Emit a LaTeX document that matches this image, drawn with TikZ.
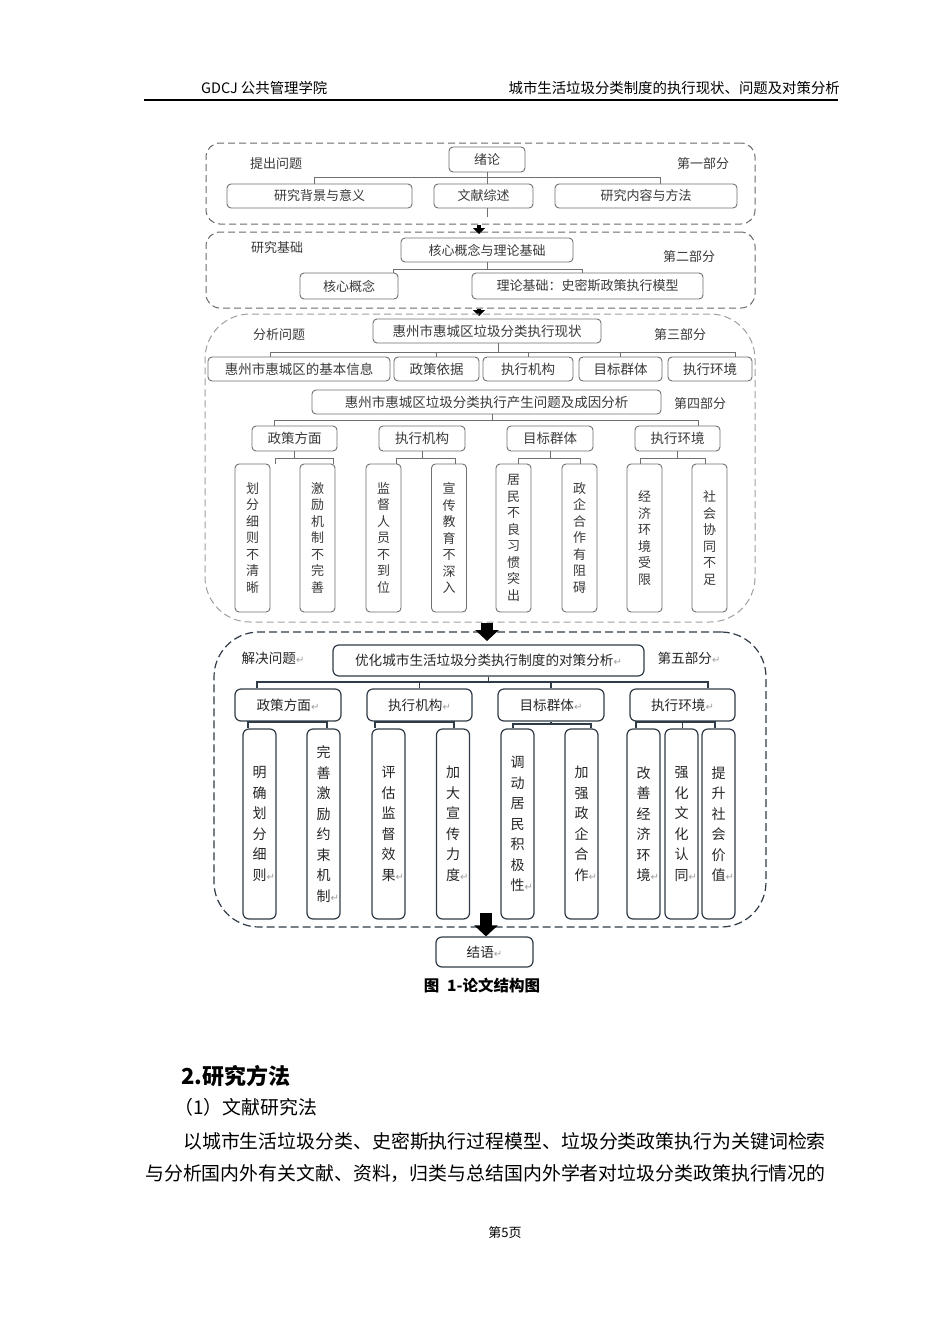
\documentclass[tikz,border=0pt]{standalone}
\usepackage{fontspec}
\setmainfont{Noto Sans CJK SC}
\newfontfamily\retfont{DejaVu Sans}
\usetikzlibrary{arrows.meta}

\definecolor{boxline}{HTML}{707070}
\definecolor{frameline}{HTML}{6A6A6A}
\definecolor{slate}{HTML}{2F3B47}
\definecolor{textgray}{HTML}{3A3A3A}

\newcommand{\rt}{{\retfont\color{gray!75}\fontsize{10}{10}\selectfont ↵}}

\tikzset{
  partframe/.style={draw=frameline, line width=1pt, dash pattern=on 7pt off 4pt, rounded corners=14pt, inner sep=0pt},
  wideframe/.style={partframe, draw=gray!75, rounded corners=45pt},
  darkframe/.style={partframe, draw=slate, line width=1.2pt, dash pattern=on 8pt off 4pt, rounded corners=45pt},
  box/.style={draw=boxline, line width=0.9pt, rounded corners=4pt, inner sep=0pt, text=textgray, font=\fontsize{13.5}{15}\selectfont},
  vbox/.style={box, minimum width=35pt, minimum height=148pt, align=center, font=\fontsize{13}{16.5}\selectfont},
  dbox/.style={draw=slate, line width=1.2pt, rounded corners=6pt, inner sep=0pt, text=black!85, font=\fontsize{13.6}{16}\selectfont},
  dvbox/.style={dbox, minimum width=33pt, minimum height=190pt, align=center, font=\fontsize{14}{20.5}\selectfont},
  sidetext/.style={inner sep=0pt, text=textgray, font=\fontsize{13}{15}\selectfont},
  dsidetext/.style={inner sep=0pt, text=black!85, font=\fontsize{13.6}{16}\selectfont},
  link/.style={draw=boxline, line width=0.9pt},
  dlink/.style={draw=slate, line width=1.2pt},
  smallarr/.style={line width=4pt, -{Triangle[width=12pt,length=6pt]}},
  bigarr/.style={line width=12pt, -{Triangle[width=23pt,length=11pt]}},
  pagetext/.style={inner sep=0pt, anchor=west, font=\fontsize{18.9}{22}\selectfont}
}

\begin{document}
\begin{tikzpicture}[x=1pt, y=-1pt]
  \fill[white] (0,0) rectangle (950,1344);
  \useasboundingbox (0,0) rectangle (950,1344);

  % page header
  \node[inner sep=0pt, anchor=west, font=\fontsize{14.4}{16}\selectfont] (hl) at (201,88) {GDCJ 公共管理学院};
  \node[inner sep=0pt, anchor=east, font=\fontsize{14.4}{16}\selectfont] (hr) at (840,88) {城市生活垃圾分类制度的执行现状、问题及对策分析};
  \draw[line width=1.6pt] (144,100) -- (838,100);

  % part one
  \node[partframe, minimum width=549pt, minimum height=81pt] (f1) at (480.5,183.5) {};
  \node[box, minimum width=76pt, minimum height=25pt, font=\fontsize{13}{15}\selectfont] (xl) at (487,159.5) {绪论};
  \node[sidetext] (tw) at (276,164) {提出问题};
  \node[sidetext] (p1) at (703,164) {第一部分};
  \node[box, minimum width=185pt, minimum height=24pt, font=\fontsize{13}{15}\selectfont] (yj1) at (319.5,196) {研究背景与意义};
  \node[box, minimum width=99pt, minimum height=24pt, font=\fontsize{13}{15}\selectfont] (yj2) at (483.5,196) {文献综述};
  \node[box, minimum width=182pt, minimum height=24pt, font=\fontsize{13}{15}\selectfont] (yj3) at (646,196) {研究内容与方法};
  \coordinate (bar1l) at (314,177);
  \coordinate (bar1r) at (660,177);
  \draw[link] (bar1l |- yj1.north) -- (bar1l) -- (bar1r) -- (bar1r |- yj3.north);
  \draw[link] (xl.south) -- (xl.south |- yj2.north);
  \coordinate (w1) at (487,217);
  \draw[link] (xl.south |- yj2.south) -- (w1);

  % part two
  \node[partframe, minimum width=549pt, minimum height=76pt] (f2) at (480.5,270) {};
  \node[box, minimum width=172pt, minimum height=24pt, font=\fontsize{13}{15}\selectfont] (hx) at (487,250) {核心概念与理论基础};
  \node[sidetext] (jc) at (277,248) {研究基础};
  \node[sidetext] (p2) at (689,257) {第二部分};
  \node[box, minimum width=98pt, minimum height=26pt, font=\fontsize{13}{15}\selectfont] (gn) at (349,286) {核心概念};
  \node[box, minimum width=231pt, minimum height=26pt, font=\fontsize{13}{15}\selectfont] (ll) at (587.5,286) {理论基础：史密斯政策执行模型};
  \coordinate (bar2l) at (393,269);
  \coordinate (bar2r) at (582,269);
  \draw[link] (bar2l |- gn.north) -- (bar2l) -- (bar2r) -- (bar2r |- ll.north);
  \draw[link] (hx.south) -- (hx.south |- bar2l);

  \coordinate (a1) at (479,234);
  \draw[smallarr] (f1.south -| a1) -- (a1);
  \coordinate (a2) at (479,316);
  \draw[smallarr] (f2.south -| a2) -- (a2);

  % parts three and four
  \node[wideframe, minimum width=550pt, minimum height=308pt] (f3) at (480,468) {};
  \node[box, minimum width=228pt, minimum height=24pt] (xz) at (487,331) {惠州市惠城区垃圾分类执行现状};
  \node[sidetext] (fx) at (279,335) {分析问题};
  \node[sidetext] (p3) at (680,335) {第三部分};
  \node[box, minimum width=182pt, minimum height=24pt] (r1) at (299,369) {惠州市惠城区的基本信息};
  \node[box, minimum width=85pt, minimum height=24pt] (r2) at (436.5,369) {政策依据};
  \node[box, minimum width=90pt, minimum height=24pt] (r3) at (528,369) {执行机构};
  \node[box, minimum width=83pt, minimum height=24pt] (r4) at (620.5,369) {目标群体};
  \node[box, minimum width=84pt, minimum height=24pt] (r5) at (710,369) {执行环境};
  \coordinate (bar3l) at (270,352);
  \coordinate (bar3r) at (735,352);
  \coordinate (bar3m) at (498,352);
  \draw[link] (bar3l |- r1.north) -- (bar3l) -- (bar3r) -- (bar3r |- r5.north);
  \draw[link] (xz.south -| bar3m) -- (bar3m);
  \draw[link] (r2.north |- bar3l) -- (r2.north);
  \draw[link] (r3.north |- bar3l) -- (r3.north);
  \draw[link] (r4.north |- bar3l) -- (r4.north);

  \node[box, minimum width=349pt, minimum height=24pt] (wt) at (486.5,402) {惠州市惠城区垃圾分类执行产生问题及成因分析};
  \node[sidetext] (p4) at (700,404) {第四部分};
  \node[box, minimum width=85pt, minimum height=25pt] (m1) at (294.5,438.5) {政策方面};
  \node[box, minimum width=86pt, minimum height=25pt] (m2) at (422,438.5) {执行机构};
  \node[box, minimum width=86pt, minimum height=25pt] (m3) at (550,438.5) {目标群体};
  \node[box, minimum width=85pt, minimum height=25pt] (m4) at (677.5,438.5) {执行环境};
  \coordinate (bar4l) at (274,420);
  \coordinate (bar4r) at (698,420);
  \coordinate (bar4m) at (492,420);
  \draw[link] (bar4l |- m1.north) -- (bar4l) -- (bar4r) -- (bar4r |- m4.north);
  \draw[link] (wt.south -| bar4m) -- (bar4m);

  \node[vbox] (k1) at (252.5,538) {划\\分\\细\\则\\不\\清\\晰};
  \node[vbox] (k2) at (317.5,538) {激\\励\\机\\制\\不\\完\\善};
  \node[vbox] (k3) at (383.5,538) {监\\督\\人\\员\\不\\到\\位};
  \node[vbox] (k4) at (449,538) {宣\\传\\教\\育\\不\\深\\入};
  \node[vbox] (k5) at (513.5,538) {居\\民\\不\\良\\习\\惯\\突\\出};
  \node[vbox] (k6) at (579.5,538) {政\\企\\合\\作\\有\\阻\\碍};
  \node[vbox] (k7) at (644.5,538) {经\\济\\环\\境\\受\\限};
  \node[vbox] (k8) at (709.5,538) {社\\会\\协\\同\\不\\足};
  \coordinate (s1l) at (275,458);
  \coordinate (s1r) at (333,458);
  \draw[link] (s1l |- k1.north) -- (s1l) -- (s1r) -- (s1r |- k2.north);
  \draw[link] (m1.south) -- (m1.south |- s1l);
  \coordinate (s2l) at (396,458);
  \coordinate (s2r) at (455,458);
  \draw[link] (s2l |- k3.north) -- (s2l) -- (s2r) -- (s2r |- k4.north);
  \draw[link] (m2.south) -- (m2.south |- s2l);
  \coordinate (s3l) at (518,458);
  \coordinate (s3r) at (580,458);
  \draw[link] (s3l |- k5.north) -- (s3l) -- (s3r) -- (s3r |- k6.north);
  \draw[link] (m3.south) -- (m3.south |- s3l);
  \coordinate (s4l) at (640,458);
  \coordinate (s4r) at (705,458);
  \draw[link] (s4l |- k7.north) -- (s4l) -- (s4r) -- (s4r |- k8.north);
  \draw[link] (m4.south) -- (m4.south |- s4l);

  % part five
  \node[darkframe, minimum width=552pt, minimum height=295pt] (f5) at (490,779.5) {};
  \coordinate (a3) at (487,641);
  \draw[bigarr] (f3.south -| a3) -- (a3);
  \node[dbox, minimum width=311pt, minimum height=31pt] (yh) at (488.5,660.5) {优化城市生活垃圾分类执行制度的对策分析\rt};
  \node[dsidetext] (jj) at (273,658) {解决问题\rt};
  \node[dsidetext] (p5) at (689,658) {第五部分\rt};
  \node[dbox, minimum width=106pt, minimum height=32pt] (n1) at (288,705) {政策方面\rt};
  \node[dbox, minimum width=105pt, minimum height=32pt] (n2) at (419.5,705) {执行机构\rt};
  \node[dbox, minimum width=106pt, minimum height=32pt] (n3) at (551,705) {目标群体\rt};
  \node[dbox, minimum width=105pt, minimum height=32pt] (n4) at (682.5,705) {执行环境\rt};
  \coordinate (bar5l) at (257,682);
  \coordinate (bar5r) at (708,682);
  \draw[dlink] (bar5l |- n1.north) -- (bar5l) -- (bar5r) -- (bar5r |- n4.north);
  \draw[dlink] (yh.south) -- (yh.south |- bar5l);
  \draw[dlink] (n2.north |- bar5l) -- (n2.north);
  \draw[dlink] (n3.north |- bar5l) -- (n3.north);

  \node[dvbox] (q1) at (259.5,824) {明\\确\\划\\分\\细\\则\rlap{\rt}};
  \node[dvbox] (q2) at (323.5,824) {完\\善\\激\\励\\约\\束\\机\\制\rlap{\rt}};
  \node[dvbox] (q3) at (388.5,824) {评\\估\\监\\督\\效\\果\rlap{\rt}};
  \node[dvbox] (q4) at (453,824) {加\\大\\宣\\传\\力\\度\rlap{\rt}};
  \node[dvbox] (q5) at (517.5,824) {调\\动\\居\\民\\积\\极\\性\rlap{\rt}};
  \node[dvbox] (q6) at (581.5,824) {加\\强\\政\\企\\合\\作\rlap{\rt}};
  \node[dvbox] (q7) at (643.5,824) {改\\善\\经\\济\\环\\境\rlap{\rt}};
  \node[dvbox] (q8) at (681.5,824) {强\\化\\文\\化\\认\\同\rlap{\rt}};
  \node[dvbox] (q9) at (718.5,824) {提\\升\\社\\会\\价\\值\rlap{\rt}};
  \coordinate (t1l) at (248,722);
  \coordinate (t1r) at (327,722);
  \draw[dlink] (t1l |- q1.north) -- (t1l) -- (t1r) -- (t1r |- q2.north);
  \draw[dlink] (n1.south) -- (n1.south |- t1l);
  \coordinate (t2l) at (375,722);
  \coordinate (t2r) at (454,722);
  \draw[dlink] (t2l |- q3.north) -- (t2l) -- (t2r) -- (t2r |- q4.north);
  \draw[dlink] (n2.south) -- (n2.south |- t2l);
  \coordinate (t3l) at (513,724);
  \coordinate (t3r) at (591,724);
  \draw[dlink] (t3l |- q5.north) -- (t3l) -- (t3r) -- (t3r |- q6.north);
  \draw[dlink] (n3.south) -- (n3.south |- t3l);
  \coordinate (t4l) at (636,722);
  \coordinate (t4r) at (715,722);
  \draw[dlink] (t4l |- q7.north) -- (t4l) -- (t4r) -- (t4r |- q9.north);
  \draw[dlink] (n4.south) -- (n4.south |- q8.north);

  \node[dbox, minimum width=97pt, minimum height=30pt] (jy) at (484.5,952) {结语\rt};
  \coordinate (a4) at (486,913);
  \draw[bigarr] (a4) -- (a4 |- jy.north);

  \node[inner sep=0pt, font=\bfseries\fontsize{15.5}{18}\selectfont] (cap) at (482,986) {图\enspace 1-论文结构图};

  % text below the figure
  \node[pagetext, font=\bfseries\fontsize{22}{24}\selectfont] (h2) at (181,1076) {2.研究方法};
  \node[pagetext] (h3) at (174,1107) {（1）文献研究法};
  \node[pagetext] (l1) at (183,1141) {以城市生活垃圾分类、史密斯执行过程模型、垃圾分类政策执行为关键词检索};
  \node[pagetext] (l2) at (145,1173) {与分析国内外有关文献、资料，归类与总结国内外学者对垃圾分类政策执行情况的};
  \node[inner sep=0pt, font=\fontsize{13}{15}\selectfont] (pg) at (505,1233) {第5页};
\end{tikzpicture}
\end{document}
